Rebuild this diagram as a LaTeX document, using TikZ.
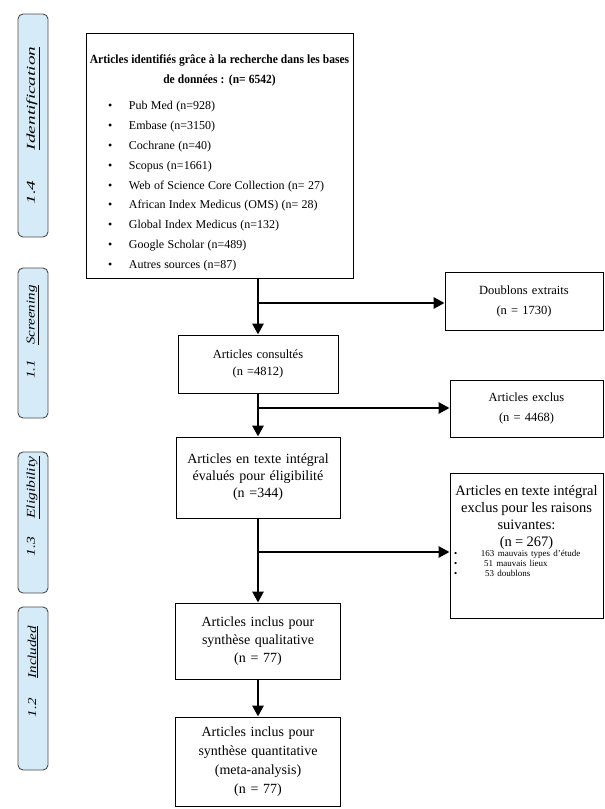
\documentclass[tikz,border=0pt]{standalone}
\usepackage{fontspec}
\setmainfont{Liberation Serif}
\usetikzlibrary{arrows.meta}
\definecolor{panelblue}{RGB}{214,235,248}
\newcommand{\dbitem}[1]{\hspace*{20pt}\makebox[21pt][l]{\textbullet}#1}
\newcommand{\whyitem}[2]{\hspace*{2pt}\makebox[27pt][l]{\textbullet}\hspace*{#1}#2}

\begin{document}
\begin{tikzpicture}[x=1pt,y=-1pt,
    box/.style={draw,line width=0.9pt,fill=white,align=center,inner sep=2pt},
    stage/.style={draw=black!70,fill=panelblue,line width=0.9pt,rounded corners=5pt,
      rotate=90,minimum height=30pt,inner sep=0pt,font=\fontsize{12}{14}\selectfont\itshape},
    arr/.style={line width=2.8pt,-{Triangle[length=11pt,width=11pt]}}]
  \useasboundingbox (0,0) rectangle (605,809);

  % stage panels on the left
  \node[stage,minimum width=223pt] (pIdent) at (33,125.5)
    {\scalebox{1.6}[1]{1.4\hspace{19pt}\underline{Identification}}\hspace{12pt}};
  \node[stage,minimum width=150pt] (pScreen) at (33,343)
    {\hspace*{22pt}\scalebox{1.25}[1]{1.1\hspace{12pt}\underline{Screening}}};
  \node[stage,minimum width=141pt] (pElig) at (33,522.5)
    {\hspace*{32pt}\scalebox{1.3}[1]{1.3\hspace{14pt}\underline{Eligibility}}};
  \node[stage,minimum width=163pt] (pIncl) at (33,688.5)
    {\hspace*{34pt}\scalebox{1.25}[1]{1.2\hspace{16pt}\underline{Included}}};

  % main column
  \node[box,align=left,text width=263pt,minimum height=245pt] (ident) at (219.5,155.5)
    {{\centering\bfseries\fontsize{12.5}{20}\selectfont
      \rule{0pt}{23pt}\scalebox{0.92}[1]{Articles identifiés grâce à la recherche dans les bases}\\
      \scalebox{0.92}[1]{de données : (n= 6542)}\par}
     \vspace{7pt}
     {\fontsize{12}{19.8}\selectfont
      \dbitem{Pub Med (n=928)}\\
      \dbitem{Embase (n=3150)}\\
      \dbitem{Cochrane (n=40)}\\
      \dbitem{Scopus (n=1661)}\\
      \dbitem{Web of Science Core Collection (n= 27)}\\
      \dbitem{African Index Medicus (OMS) (n= 28)}\\
      \dbitem{Global Index Medicus (n=132)}\\
      \dbitem{Google Scholar (n=489)}\\
      \dbitem{Autres sources (n=87)}\par}};
  \node[box,text width=156pt,minimum height=58pt,font=\fontsize{12.5}{17}\selectfont] (consult) at (258,364)
    {Articles consultés\\ (n =4812)};
  \node[box,text width=160pt,minimum height=81pt,font=\fontsize{14}{17}\selectfont] (elig) at (258,477.5)
    {Articles en texte intégral\\ évalués pour éligibilité\\ (n =344)};
  \node[box,text width=161pt,minimum height=76pt,font=\fontsize{14}{18}\selectfont] (qual) at (258,641)
    {Articles inclus pour\\ synthèse qualitative\\ (n = 77)};
  \node[box,text width=161pt,minimum height=89pt,font=\fontsize{14}{19}\selectfont] (quant) at (258,761.5)
    {Articles inclus pour\\ synthèse quantitative\\ (meta-analysis)\\ (n = 77)};

  % excluded boxes on the right
  \node[box,text width=154pt,minimum height=58pt,font=\fontsize{12.5}{20}\selectfont] (dupl) at (524,301)
    {Doublons extraits\\ (n = 1730)};
  \node[box,text width=149pt,minimum height=57pt,font=\fontsize{12.5}{20}\selectfont] (excl) at (526.5,408.5)
    {Articles exclus\\ (n = 4468)};
  \node[box,align=left,text width=149pt,anchor=north] (why) at (526.5,473)
    {{\centering\fontsize{14.5}{17}\selectfont
      \rule{0pt}{20pt}Articles en texte intégral\\ exclus pour les raisons\\ suivantes:\\ (n = 267)\par}
     {\fontsize{9}{10}\selectfont
      \whyitem{0pt}{163 mauvais types d'étude}\\
      \whyitem{3pt}{51 mauvais lieux}\\
      \whyitem{4pt}{53 doublons}\rule[-40pt]{0pt}{0pt}\par}};

  % connectors
  \coordinate (b1) at (258,303);
  \coordinate (b2) at (258,408);
  \coordinate (b3) at (258,552);
  \draw[arr] (ident.south -| consult.north) -- (consult.north);
  \draw[arr] (b1) -- (dupl.west |- b1);
  \draw[arr] (consult.south) -- (elig.north);
  \draw[arr] (b2) -- (excl.west |- b2);
  \draw[arr] (elig.south) -- (qual.north);
  \draw[arr] (b3) -- (why.west |- b3);
  \draw[arr] (qual.south) -- (quant.north);
\end{tikzpicture}
\end{document}
